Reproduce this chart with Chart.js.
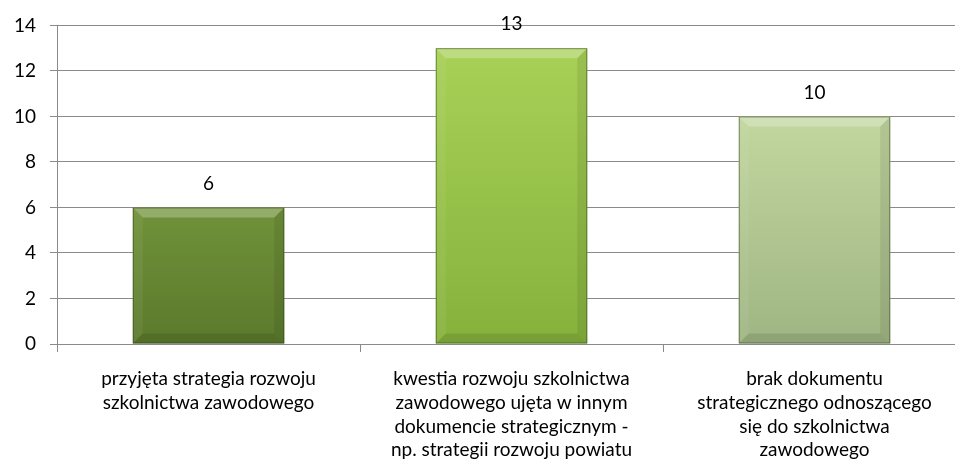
<!DOCTYPE html>
<html>
<head>
<meta charset="utf-8">
<script src="https://cdn.jsdelivr.net/npm/chart.js@4"></script>
<style>
html,body{margin:0;padding:0;background:#fff;overflow:hidden;}
#wrap{width:966px;height:472px;position:relative;}
</style>
</head>
<body>
<div id="wrap"><canvas id="c" width="966" height="472"></canvas></div>
<script>
const categories = [
  ["przyjęta strategia rozwoju", "szkolnictwa zawodowego"],
  ["kwestia rozwoju szkolnictwa", "zawodowego ujęta w innym", "dokumencie strategicznym -", "np. strategii rozwoju powiatu"],
  ["brak dokumentu", "strategicznego odnoszącego", "się do szkolnictwa", "zawodowego"]
];
const values = [6, 13, 10];
const yTicks = [0, 2, 4, 6, 8, 10, 12, 14];

const FONT = "Lato, 'Liberation Sans', sans-serif";
const grads = [
  ['#8db24c', '#5b7a2c'],
  ['#aad359', '#86b23c'],
  ['#d0e4aa', '#9fb583']
];

function barFill(ctx) {
  const chart = ctx.chart;
  const ca = chart.chartArea;
  if (!ca) return grads[ctx.dataIndex][0];
  const el = chart.getDatasetMeta(0).data[ctx.dataIndex];
  const top = el && isFinite(el.y) ? el.y : ca.top;
  const bottom = el && isFinite(el.base) ? el.base : ca.bottom;
  const g = chart.ctx.createLinearGradient(0, top, 0, bottom);
  g.addColorStop(0, grads[ctx.dataIndex][0]);
  g.addColorStop(1, grads[ctx.dataIndex][1]);
  return g;
}

const bevelPlugin = {
  id: 'bevel',
  afterDatasetsDraw(chart) {
    const ctx = chart.ctx;
    chart.getDatasetMeta(0).data.forEach((el) => {
      const l = el.x - el.width / 2, r = el.x + el.width / 2, t = el.y, b = el.base;
      const d = 10;
      ctx.save();
      ctx.beginPath();
      ctx.moveTo(l, t); ctx.lineTo(r, t); ctx.lineTo(r - d, t + d); ctx.lineTo(l + d, t + d); ctx.closePath();
      ctx.fillStyle = 'rgba(255,255,255,0.25)'; ctx.fill();
      ctx.beginPath();
      ctx.moveTo(l, t); ctx.lineTo(l + d, t + d); ctx.lineTo(l + d, b - d); ctx.lineTo(l, b); ctx.closePath();
      ctx.fillStyle = 'rgba(255,255,255,0.06)'; ctx.fill();
      ctx.beginPath();
      ctx.moveTo(r, t); ctx.lineTo(r - d, t + d); ctx.lineTo(r - d, b - d); ctx.lineTo(r, b); ctx.closePath();
      ctx.fillStyle = 'rgba(0,0,0,0.08)'; ctx.fill();
      ctx.beginPath();
      ctx.moveTo(l, b); ctx.lineTo(l + d, b - d); ctx.lineTo(r - d, b - d); ctx.lineTo(r, b); ctx.closePath();
      ctx.fillStyle = 'rgba(0,0,0,0.10)'; ctx.fill();
      ctx.strokeStyle = 'rgba(40,60,20,0.5)'; ctx.lineWidth = 1;
      ctx.strokeRect(l + 0.5, t + 0.5, r - l - 1, b - t - 1);
      ctx.restore();
    });
  }
};

const labelPlugin = {
  id: 'valueLabels',
  afterDatasetsDraw(chart) {
    const ctx = chart.ctx;
    ctx.save();
    ctx.font = "19px " + FONT;
    ctx.fillStyle = '#000';
    ctx.textAlign = 'center';
    ctx.textBaseline = 'middle';
    chart.getDatasetMeta(0).data.forEach((el, i) => {
      ctx.fillText(String(values[i]), el.x, el.y - 24);
    });
    ctx.restore();
  }
};

new Chart(document.getElementById('c'), {
  type: 'bar',
  data: {
    labels: categories,
    datasets: [{
      data: values,
      backgroundColor: barFill,
      borderWidth: 0,
      categoryPercentage: 1.0,
      barPercentage: 0.5
    }]
  },
  options: {
    responsive: false,
    animation: false,
    events: [],
    layout: { padding: { top: 18, left: 0, right: 0, bottom: -5 } },
    plugins: { legend: { display: false }, tooltip: { enabled: false } },
    scales: {
      x: {
        grid: { drawOnChartArea: false, drawTicks: true, tickLength: 8, color: '#8a8a8a', offset: true },
        border: { display: true, color: '#8a8a8a' },
        ticks: { color: '#000', font: { family: FONT, size: 19, lineHeight: 1.25 }, padding: 15, maxRotation: 0, autoSkip: false }
      },
      y: {
        min: 0, max: 14,
        afterBuildTicks(scale) { scale.ticks = yTicks.map(v => ({ value: v })); },
        grid: { color: '#8a8a8a', lineWidth: 1, tickLength: 7 },
        border: { display: true, color: '#8a8a8a' },
        ticks: { color: '#000', font: { family: FONT, size: 19 }, padding: 14 }
      }
    }
  },
  plugins: [bevelPlugin, labelPlugin]
});
</script>
</body>
</html>
